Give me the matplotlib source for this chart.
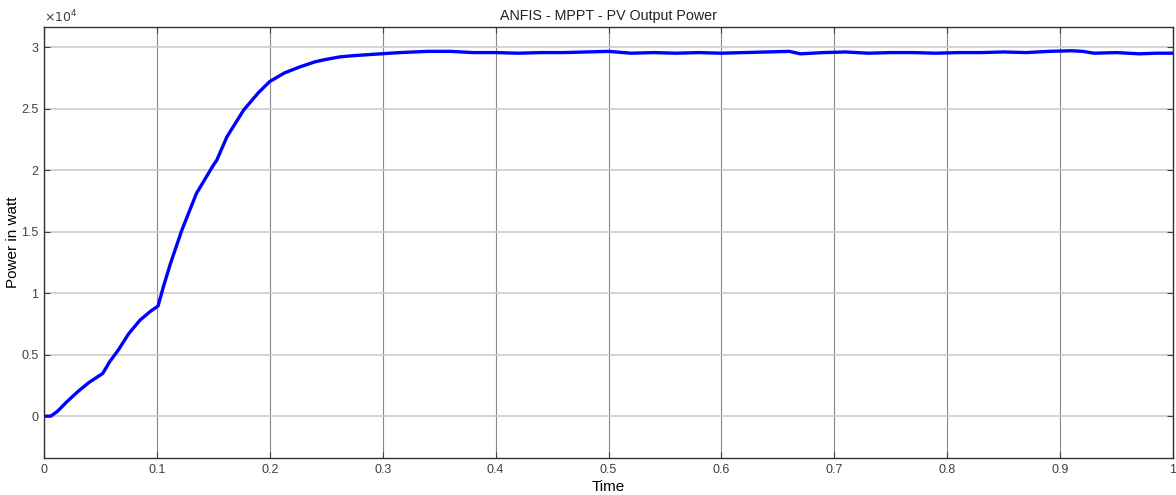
import numpy as np
import matplotlib.pyplot as plt
import matplotlib.ticker as mtick

plt.rcParams.update({"font.family": ["Liberation Sans", "DejaVu Sans"]})

# ── data (time in s, power in W) ────────────────────────────────────
time = [0.000, 0.006, 0.012, 0.020, 0.030, 0.040, 0.052, 0.058,
        0.066, 0.075, 0.085, 0.094, 0.101,
        0.106, 0.112, 0.122, 0.135, 0.150, 0.153, 0.162, 0.177, 0.190,
        0.200, 0.213, 0.227, 0.240, 0.250, 0.262, 0.274, 0.290,
        0.315, 0.340, 0.360, 0.380, 0.400, 0.420, 0.440, 0.460,
        0.480, 0.500, 0.520, 0.540, 0.560, 0.580, 0.600, 0.620,
        0.640, 0.660, 0.670, 0.690, 0.710, 0.730, 0.750, 0.770,
        0.790, 0.810, 0.830, 0.850, 0.870, 0.890, 0.910, 0.920,
        0.930, 0.950, 0.970, 0.985, 1.000]
power = [0, 0, 400, 1150, 2000, 2750, 3470, 4400,
         5400, 6700, 7800, 8500, 8950,
         10600, 12400, 15100, 18100, 20400, 20800, 22700, 24900, 26300,
         27200, 27900, 28400, 28800, 29000, 29200, 29300, 29400,
         29550, 29650, 29650, 29550, 29550, 29500, 29550, 29550,
         29600, 29650, 29500, 29550, 29500, 29550, 29500, 29550,
         29600, 29650, 29450, 29550, 29600, 29500, 29550, 29550,
         29500, 29550, 29550, 29600, 29550, 29650, 29700, 29650,
         29500, 29550, 29450, 29500, 29500]

fig = plt.figure(figsize=(11.76, 4.95), dpi=100)
ax = fig.add_axes([44/1176, 37/495, 1129/1176, 431/495])

ax.plot(time, power, color="#0000ff", linewidth=2.4)

ax.set_xlim(0, 1)
ax.set_ylim(-3400, 31630)
ax.set_xticks(np.arange(0, 1.01, 0.1))
ax.set_yticks(np.arange(0, 30001, 5000))
ax.xaxis.set_major_formatter(mtick.FuncFormatter(lambda x, _: f"{x:g}"))
ax.yaxis.set_major_formatter(mtick.FuncFormatter(lambda y, _: f"{y/1e4:g}"))

ax.grid(axis="x", color="#888888", linewidth=0.8)
ax.grid(axis="y", color="#cccccc", linewidth=1.2)
ax.tick_params(direction="in", top=True, right=True, labelsize=9,
               colors="#404040", labelcolor="#404040", length=4, pad=4)
for s in ax.spines.values():
    s.set_color("#333333")
    s.set_linewidth(1.0)

ax.text(0, 1.005, r"$\times10^4$", transform=ax.transAxes, fontsize=9,
        color="#404040", ha="left", va="bottom")

ax.set_title("ANFIS - MPPT - PV Output Power", fontsize=10.3, color="#222222", pad=5)
ax.set_xlabel("Time", fontsize=11, labelpad=3)
ax.set_ylabel("Power in watt", fontsize=11)
ax.yaxis.set_label_coords(-0.021, 0.5)

fig.savefig("out.png", dpi=100, facecolor="white")
